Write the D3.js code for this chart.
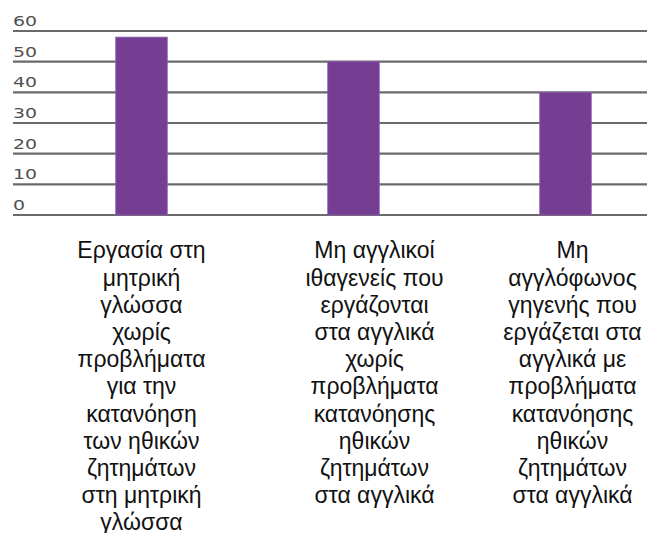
<!DOCTYPE html>
<html>
<head>
<meta charset="utf-8">
<script src="https://cdn.jsdelivr.net/npm/d3@7"></script>
<style>
  html, body { margin: 0; padding: 0; background: #fff; }
  svg { display: block; }
</style>
</head>
<body>
<svg id="chart" width="647" height="533"></svg>
<script>
const categories = ["cat1", "cat2", "cat3"];
const values = [58, 50, 40];
const yTicks = [0, 10, 20, 30, 40, 50, 60];
const categoryLabels = [
  ["Εργασία στη", "μητρική", "γλώσσα", "χωρίς", "προβλήματα", "για την", "κατανόηση", "των ηθικών", "ζητημάτων", "στη μητρική", "γλώσσα"],
  ["Μη αγγλικοί", "ιθαγενείς που", "εργάζονται", "στα αγγλικά", "χωρίς", "προβλήματα", "κατανόησης", "ηθικών", "ζητημάτων", "στα αγγλικά"],
  ["Μη", "αγγλόφωνος", "γηγενής που", "εργάζεται στα", "αγγλικά με", "προβλήματα", "κατανόησης", "ηθικών", "ζητημάτων", "στα αγγλικά"]
];

// layout constants
const labelShift = [0, 21, 7];
const gridLeft = 13, gridRight = 647;

const svg = d3.select("#chart");

const x = d3.scaleBand()
  .domain(categories)
  .range([35.5, 671.5])
  .paddingInner(0.757)
  .paddingOuter(0.3785);

const y = d3.scaleLinear().domain([0, 60]).range([215, 31]);

// gridlines
svg.append("g").selectAll("line")
  .data(yTicks)
  .join("line")
  .attr("x1", gridLeft).attr("x2", gridRight)
  .attr("y1", d => y(d)).attr("y2", d => y(d))
  .attr("stroke", "#6a6a6a")
  .attr("stroke-width", 2.2);

// tick labels
svg.append("g").selectAll("text")
  .data(yTicks)
  .join("text")
  .attr("transform", d => `translate(${gridLeft},${y(d) - 5}) scale(1.35,1)`)
  .attr("font-family", "DejaVu Sans, sans-serif")
  .attr("font-size", 14)
  .attr("fill", "#505050")
  .text(d => d);

// bars
svg.append("g").selectAll("rect")
  .data(values)
  .join("rect")
  .attr("x", (d, i) => x(categories[i]))
  .attr("width", x.bandwidth())
  .attr("y", d => y(d))
  .attr("height", d => y(0) - y(d))
  .attr("fill", "#753e93")
  .attr("stroke", "#8d5cae")
  .attr("stroke-width", 0.8);

// category labels
const lg = svg.append("g")
  .attr("font-family", "Liberation Sans, Arial, sans-serif")
  .attr("font-size", 23)
  .attr("fill", "#111")
  .attr("text-anchor", "middle");

categoryLabels.forEach((lines, i) => {
  const cx = x(categories[i]) + x.bandwidth() / 2 + labelShift[i];
  lg.append("text")
    .selectAll("tspan")
    .data(lines)
    .join("tspan")
    .attr("x", cx)
    .attr("y", (d, j) => 258.3 + j * 27.2)
    .text(d => d);
});
</script>
</body>
</html>
